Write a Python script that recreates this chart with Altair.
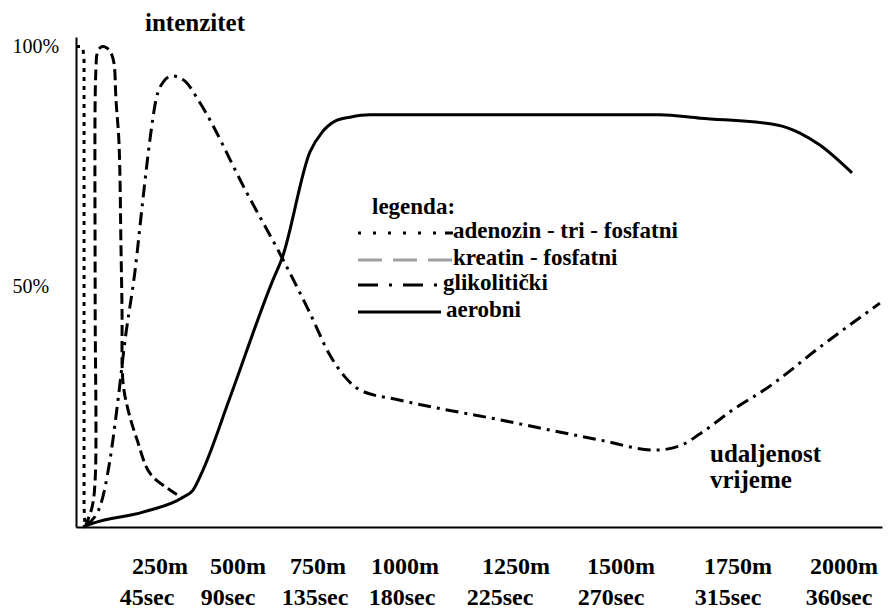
import altair as alt
import pandas as pd

SERIF = "Liberation Serif"

SERIES = ["adenozin - tri - fosfatni", "kreatin - fosfatni", "glikolitički", "aerobni"]
Y_TITLE = "intenzitet"
X_TITLE = ["udaljenost", "vrijeme"]
LEGEND_TITLE = "legenda:"

# distance (m) / intensity (%)
atp_m = [0, 14, 21, 24, 24, 24, 27]
atp_pct = [100, 100, 99.5, 97, 50, 4, 0]

kp_m = [27, 48, 57, 57, 57, 60, 62, 71, 80, 92, 104, 113, 119, 128, 134, 137, 140, 155, 182, 220, 282, 324]
kp_pct = [0, 4.2, 9.8, 47, 89, 96.6, 98.3, 99.7, 100, 99.7, 98.7, 96.6, 88.9, 79.9, 57.7, 45.2, 30, 24.4, 18.1, 11.2, 7.7, 6.0]

gl_m = [30, 71, 101, 125, 146, 176, 199, 220, 238, 260, 288, 330, 378, 528, 638, 725, 784, 828, 871, 986,
        1214, 1450, 1573, 1626, 1669, 1739, 1818, 1950, 2085]
gl_pct = [0.4, 4.2, 13.9, 26.4, 38.9, 53.5, 68.1, 80.6, 88.9, 92.6, 93.9, 92.8, 88.3, 69.5, 56.0, 44.5, 35.8, 31.2,
          28.5, 26.4, 22.3, 18.1, 16.0, 16.9, 19.4, 24.4, 28.9, 37.9, 46.6]

ae_m = [21, 51, 199, 324, 356, 388, 474, 609, 638, 725, 762, 799, 842, 899, 1583, 1669, 1842, 1896, 1943, 2019]
ae_pct = [0, 0.8, 3.1, 6.2, 7.7, 11.9, 26.9, 51.4, 56.0, 78.1, 82.2, 84.5, 85.3, 85.8, 85.8, 85.1, 83.7, 82.0, 79.5, 73.7]

DIST_TICKS = [250, 500, 750, 1000, 1250, 1500, 1750, 2000]
DIST_LABELS = [f"{d}m" for d in DIST_TICKS]
TIME_TICKS = [45, 90, 135, 180, 225, 270, 315, 360]
TIME_LABELS = [f"{t}sec" for t in TIME_TICKS]
PCT_TICKS = [50, 100]

W, H = 806, 490

# the printed axis is not evenly spaced: piecewise-linear scales
xscale = alt.Scale(domain=[0] + DIST_TICKS + [2090],
                   range=[0, 84, 162, 242, 329, 440, 545, 662, 768, 806], nice=False, zero=False)
tscale = alt.Scale(domain=[0] + TIME_TICKS,
                   range=[0, 71, 152, 239, 326, 424, 535, 652, 763], nice=False, zero=False)
yscale = alt.Scale(domain=[0, 102], nice=False, zero=False)

xaxis = alt.Axis(values=DIST_TICKS, labels=False, title=None, grid=False, ticks=False,
                 tickSize=0, domainColor="black", domainWidth=2)
yaxis = alt.Axis(values=PCT_TICKS, labelExpr="datum.value + '%'", title=None, grid=False, ticks=False,
                 tickSize=0, domainColor="black", domainWidth=2, labelFont=SERIF, labelFontSize=20,
                 labelColor="black", labelAlign="left", labelPadding=64, labelBaseline="middle")

x_enc = alt.X("m:Q", scale=xscale, axis=xaxis)
y_enc = alt.Y("pct:Q", scale=yscale, axis=yaxis)

TEXT_STYLE = dict(baseline="alphabetic", font=SERIF, color="black", fontWeight="bold")


def series_df(name, m, pct):
    return pd.DataFrame({"series": name, "m": m, "pct": pct, "i": list(range(len(m)))})


def line(df, interp, dash=None):
    kw = dict(color="black", strokeWidth=3, interpolate=interp, strokeCap="butt")
    if dash:
        kw["strokeDash"] = dash
    return alt.Chart(df).mark_line(**kw).encode(x=x_enc, y=y_enc, order="i:Q")


def text(t, x, y, size, align="left"):
    return alt.Chart(pd.DataFrame({"t": [t]})).mark_text(align=align, fontSize=size, **TEXT_STYLE).encode(
        x=alt.value(x), y=alt.value(y), text="t:N")


def sample(name, x1, x2, y, color="black", dash=None):
    kw = dict(color=color, strokeWidth=3, strokeCap="butt")
    if dash:
        kw["strokeDash"] = dash
    return alt.Chart(pd.DataFrame({"s": [name]})).mark_rule(**kw).encode(
        x=alt.value(x1), x2=alt.value(x2), y=alt.value(y))


lines = [
    line(series_df(SERIES[0], atp_m, atp_pct), "linear", [4, 5]),
    line(series_df(SERIES[1], kp_m, kp_pct), "catmull-rom", [11, 5]),
    line(series_df(SERIES[2], gl_m, gl_pct), "monotone", [13, 6, 3, 6]),
    line(series_df(SERIES[3], ae_m, ae_pct), "monotone"),
]

dist_labels = alt.Chart(pd.DataFrame({"m": DIST_TICKS, "lab": DIST_LABELS})).mark_text(
    align="center", fontSize=24, **TEXT_STYLE
).encode(x=x_enc, y=alt.value(537), text="lab:N")

annotations = [
    text(Y_TITLE, 69, -6, 25),
    text(X_TITLE[0], 634, 425, 25),
    text(X_TITLE[1], 634, 451, 25),
    text(LEGEND_TITLE, 296, 177, 23),
    sample(SERIES[0], 282, 377, 196, dash=[3, 12, 3, 12, 3, 12, 3, 12, 3, 12, 3, 9, 8, 20]),
    sample(SERIES[1], 282, 376, 223, color="#a0a0a0", dash=[24, 11]),
    sample(SERIES[2], 282, 362, 248, dash=[20, 11, 3, 11]),
    sample(SERIES[3], 282, 365, 275),
    text(SERIES[0], 377, 201, 23),
    text(SERIES[1], 377, 228, 23),
    text(SERIES[2], 367, 253, 23),
    text(SERIES[3], 370, 280, 23),
]

inner = alt.layer(*lines, dist_labels, *annotations)

time_labels = alt.Chart(pd.DataFrame({"sec": TIME_TICKS, "lab": TIME_LABELS})).mark_text(
    align="center", fontSize=24, **TEXT_STYLE
).encode(x=alt.X("sec:Q", scale=tscale, axis=None), y=alt.value(568), text="lab:N")

chart = alt.layer(inner, time_labels).resolve_scale(x="independent").properties(
    width=W, height=H,
    padding={"left": 68, "top": 29, "right": 1, "bottom": 86},
    autosize=alt.AutoSizeParams(type="none"),
    background="white",
).configure_view(stroke=None)

chart.save("out.html", embed_options={"renderer": "svg", "actions": False})
